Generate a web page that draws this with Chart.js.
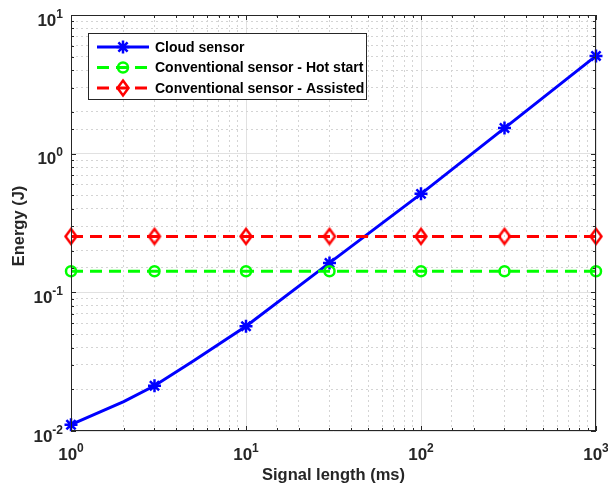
<!DOCTYPE html>
<html>
<head>
  <title>Energy vs signal length</title>
  <script src="https://cdn.jsdelivr.net/npm/chart.js"></script>
  <style>
    body {
      margin: 0;
      background: #ffffff;
    }
    #energyChart {
      display: block;
    }
  </style>
</head>
<body>
  <canvas id="energyChart" width="608" height="488"></canvas>

  <script>
    // data
    const cloudX = [1, 2, 3, 5, 10, 30, 100, 300, 1000];
    const cloudEnergy = [0.0111, 0.0163, 0.0212, 0.032, 0.057, 0.163, 0.513, 1.53, 5.07];
    const markerX = [1, 3, 10, 30, 100, 300, 1000];
    const hotStartEnergy = [0.142, 0.142, 0.142, 0.142, 0.142, 0.142, 0.142];
    const assistedEnergy = [0.253, 0.253, 0.253, 0.253, 0.253, 0.253, 0.253];
    const xTickExps = [0, 1, 2, 3];
    const yTickExps = [-2, -1, 0, 1];
    const seriesNames = ['Cloud sensor', 'Conventional sensor - Hot start', 'Conventional sensor - Assisted'];

    const FONT = '"Liberation Sans", Arial, Helvetica, sans-serif';
    const AXIS_COLOR = '#262626';

    const isDecade = v => Math.abs(Math.log10(v) - Math.round(Math.log10(v))) < 1e-9;
    const toPoints = (xs, ys) => xs.map((x, i) => ({ x: x, y: ys[i] }));

    // MATLAB style diamond (taller than wide), hollow
    function makeDiamond(color) {
      const c = document.createElement('canvas');
      c.width = 16;
      c.height = 20;
      const g = c.getContext('2d');
      g.strokeStyle = color;
      g.lineWidth = 2.5;
      g.beginPath();
      g.moveTo(8, 2.5);
      g.lineTo(13.5, 10);
      g.lineTo(8, 17.5);
      g.lineTo(2.5, 10);
      g.closePath();
      g.stroke();
      return c;
    }
    const diamond = makeDiamond('#ff0000');

    function drawPow(ctx, exp, x, baseline, align, baseSize, supSize) {
      const baseFont = 'bold ' + baseSize + 'px ' + FONT;
      const supFont = 'bold ' + supSize + 'px ' + FONT;
      const sup = String(exp);
      ctx.font = baseFont;
      const w10 = ctx.measureText('10').width;
      ctx.font = supFont;
      const wSup = ctx.measureText(sup).width;
      let left = align === 'center' ? x - (w10 + wSup) / 2 : x - (w10 + wSup);
      ctx.textAlign = 'left';
      ctx.textBaseline = 'alphabetic';
      ctx.font = baseFont;
      ctx.fillText('10', left, baseline);
      ctx.font = supFont;
      ctx.fillText(sup, left + w10, baseline - 8);
    }

    const matlabAxes = {
      id: 'matlabAxes',
      afterDatasetsDraw(chart) {
        const ctx = chart.ctx;
        const a = chart.chartArea;
        const xs = chart.scales.x;
        const ys = chart.scales.y;
        ctx.save();

        // box
        ctx.strokeStyle = AXIS_COLOR;
        ctx.lineWidth = 1;
        ctx.setLineDash([]);
        ctx.strokeRect(a.left + 0.5, a.top + 0.5, a.right - a.left - 1, a.bottom - a.top - 1);

        // inward tick marks on all four sides
        ctx.beginPath();
        xs.ticks.forEach(t => {
          const px = Math.round(xs.getPixelForValue(t.value)) + 0.5;
          const len = isDecade(t.value) ? 5 : 3;
          ctx.moveTo(px, a.bottom); ctx.lineTo(px, a.bottom - len);
          ctx.moveTo(px, a.top); ctx.lineTo(px, a.top + len);
        });
        ys.ticks.forEach(t => {
          const py = Math.round(ys.getPixelForValue(t.value)) + 0.5;
          const len = isDecade(t.value) ? 5 : 3;
          ctx.moveTo(a.left, py); ctx.lineTo(a.left + len, py);
          ctx.moveTo(a.right, py); ctx.lineTo(a.right - len, py);
        });
        ctx.stroke();

        // tick labels
        ctx.fillStyle = AXIS_COLOR;
        xTickExps.forEach(e => {
          drawPow(ctx, e, xs.getPixelForValue(Math.pow(10, e)), 460, 'center', 17, 12);
        });
        yTickExps.forEach(e => {
          drawPow(ctx, e, 63, ys.getPixelForValue(Math.pow(10, e)) + 10.5, 'right', 17, 12);
        });

        // axis titles
        ctx.font = 'bold 16.5px ' + FONT;
        ctx.textAlign = 'center';
        ctx.textBaseline = 'alphabetic';
        ctx.fillText('Signal length (ms)', (a.left + a.right) / 2, 480);
        ctx.save();
        ctx.translate(24, (a.top + a.bottom) / 2 + 3);
        ctx.rotate(-Math.PI / 2);
        ctx.fillText('Energy (J)', 0, 0);
        ctx.restore();

        // legend
        const lx = 88, ly = 33, lw = 278, lh = 66;
        ctx.fillStyle = '#ffffff';
        ctx.fillRect(lx, ly, lw, lh);
        ctx.strokeStyle = AXIS_COLOR;
        ctx.lineWidth = 1;
        ctx.strokeRect(lx + 0.5, ly + 0.5, lw, lh);
        const rows = [47, 67.5, 88];
        chart.data.datasets.forEach((ds, i) => {
          const y = rows[i];
          ctx.strokeStyle = ds.borderColor;
          ctx.lineWidth = ds.borderWidth;
          ctx.setLineDash(ds.borderDash || []);
          ctx.beginPath();
          ctx.moveTo(97, y);
          ctx.lineTo(149, y);
          ctx.stroke();
          ctx.setLineDash([]);
          ctx.lineWidth = ds.pointBorderWidth;
          if (ds.pointStyle === 'star') {
            const r = 6.5;
            ctx.beginPath();
            for (let k = 0; k < 4; k++) {
              const ang = k * Math.PI / 4;
              ctx.moveTo(123 - r * Math.cos(ang), y - r * Math.sin(ang));
              ctx.lineTo(123 + r * Math.cos(ang), y + r * Math.sin(ang));
            }
            ctx.stroke();
          } else if (ds.pointStyle === 'circle') {
            ctx.beginPath();
            ctx.arc(123, y, 5, 0, Math.PI * 2);
            ctx.stroke();
          } else {
            ctx.drawImage(ds.pointStyle, 123 - 8, y - 10);
          }
          ctx.fillStyle = '#000000';
          ctx.font = 'bold 14px ' + FONT;
          ctx.textAlign = 'left';
          ctx.textBaseline = 'middle';
          ctx.fillText(seriesNames[i], 155, y + 1);
        });

        ctx.restore();
      }
    };

    const gridColor = ctx => (ctx.tick && isDecade(ctx.tick.value)) ? '#e1e1e1' : '#d4d4d4';
    const gridDash = ctx => (ctx.tick && !isDecade(ctx.tick.value)) ? [2, 3] : [];

    new Chart(document.getElementById('energyChart'), {
      type: 'line',
      data: {
        datasets: [
          {
            label: seriesNames[0],
            data: toPoints(cloudX, cloudEnergy),
            borderColor: '#0000ff',
            backgroundColor: 'transparent',
            borderWidth: 3,
            pointStyle: 'star',
            pointRadius: ctx => markerX.includes(cloudX[ctx.dataIndex]) ? 6.5 : 0,
            pointBorderWidth: 2.5,
            pointBorderColor: '#0000ff',
            clip: false,
            order: 3
          },
          {
            label: seriesNames[1],
            data: toPoints(markerX, hotStartEnergy),
            borderColor: '#00ff00',
            backgroundColor: 'transparent',
            borderWidth: 3,
            borderDash: [12, 7],
            pointStyle: 'circle',
            pointRadius: 5,
            pointBorderWidth: 2.5,
            pointBorderColor: '#00ff00',
            pointBackgroundColor: 'transparent',
            clip: false,
            order: 2
          },
          {
            label: seriesNames[2],
            data: toPoints(markerX, assistedEnergy),
            borderColor: '#ff0000',
            backgroundColor: 'transparent',
            borderWidth: 3,
            borderDash: [12, 7],
            pointStyle: diamond,
            pointRadius: 7,
            pointBorderWidth: 2.5,
            pointBorderColor: '#ff0000',
            clip: false,
            order: 1
          }
        ]
      },
      options: {
        responsive: false,
        animation: false,
        events: [],
        layout: { padding: { left: 71, right: 12, top: 15, bottom: 57 } },
        plugins: {
          legend: { display: false },
          tooltip: { enabled: false }
        },
        elements: { line: { tension: 0 } },
        scales: {
          x: {
            type: 'logarithmic',
            min: 1,
            max: 1000,
            ticks: { display: false },
            grid: { color: gridColor, lineWidth: 1, drawTicks: false },
            border: { display: false, dash: gridDash },
            afterFit: s => { s.height = 0; }
          },
          y: {
            type: 'logarithmic',
            min: 0.01,
            max: 10,
            ticks: { display: false },
            grid: { color: gridColor, lineWidth: 1, drawTicks: false },
            border: { display: false, dash: gridDash },
            afterFit: s => { s.width = 0; }
          }
        }
      },
      plugins: [matlabAxes]
    });
  </script>
</body>
</html>
